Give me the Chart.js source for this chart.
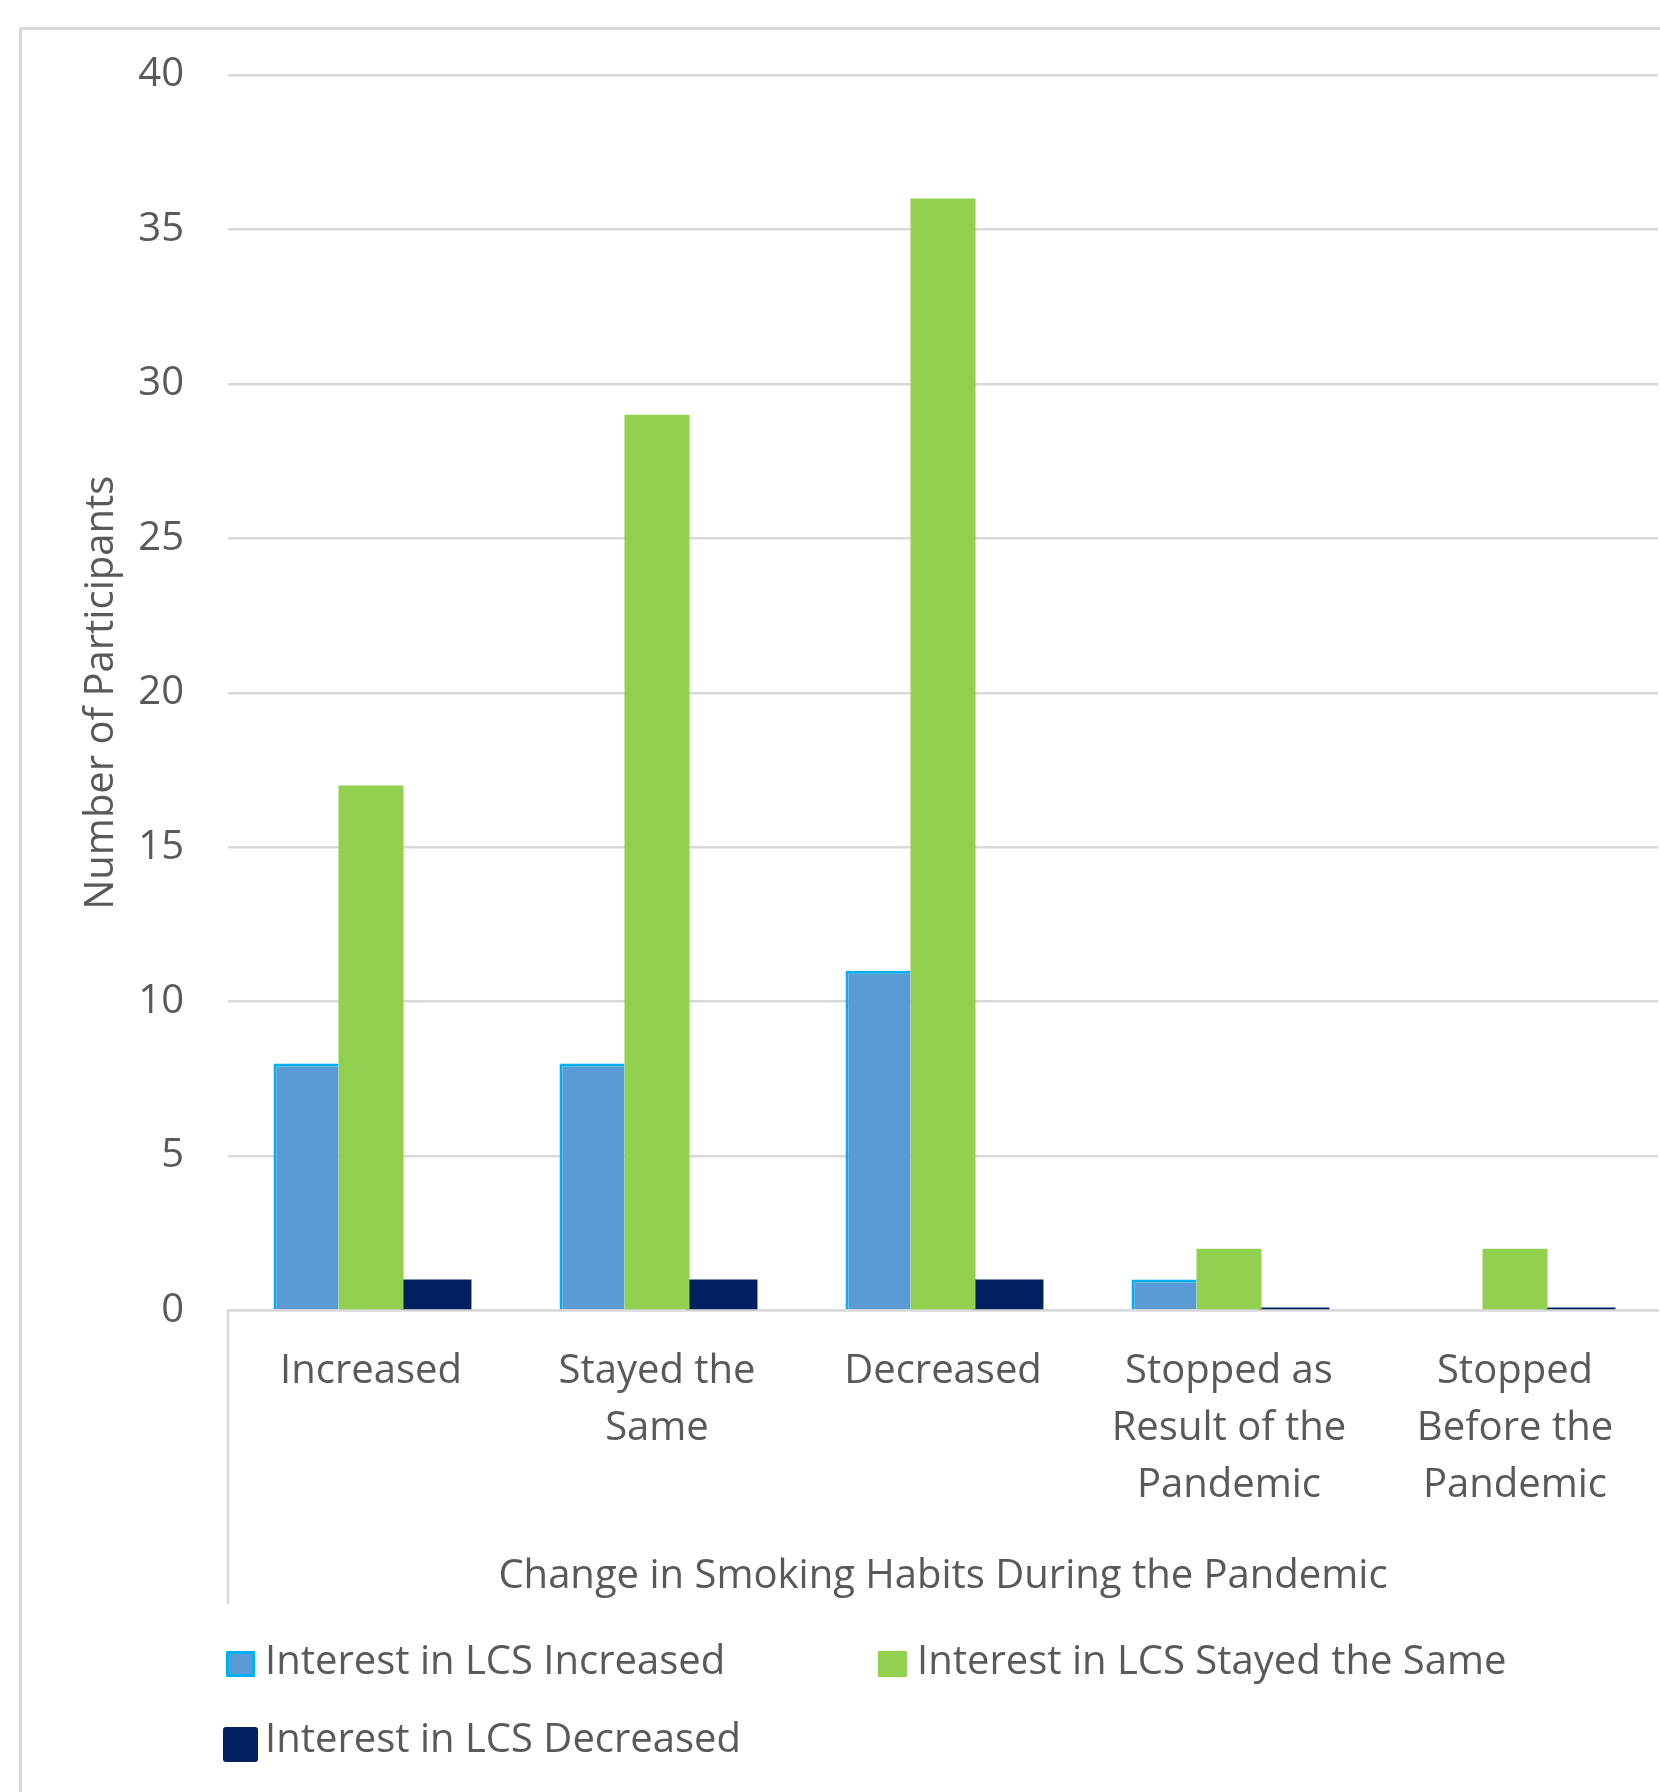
<!DOCTYPE html>
<html>
<head>
<meta charset="utf-8">
<script src="https://cdn.jsdelivr.net/npm/chart.js@4.4.0/dist/chart.umd.min.js"></script>
<style>
  html, body { margin: 0; padding: 0; background: #fff; overflow: hidden; }
  #wrap { position: relative; width: 1660px; height: 1792px; overflow: hidden; }
  #frame { position: absolute; left: 19px; top: 27px; width: 1700px; height: 1800px;
           border-left: 3px solid #d9d9d9; border-top: 3px solid #d9d9d9; }
  canvas { position: absolute; left: 0; top: 0; }
  .key { position: absolute; font: 40px 'Open Sans'; color: #595959; line-height: 40px; white-space: nowrap; }
  .swatch { position: absolute; box-sizing: border-box; }
</style>
</head>
<body>
<div id="wrap">
  <div id="frame"></div>
  <canvas id="smokingChart" width="1660" height="1792"></canvas>
  <div id="legend"></div>
</div>
<script>
// categories on the x axis (multi-line labels as arrays)
const categories = [
  'Increased',
  ['Stayed the', 'Same'],
  'Decreased',
  ['Stopped as', 'Result of the', 'Pandemic'],
  ['Stopped', 'Before the', 'Pandemic']
];
const seriesNames = [
  'Interest in LCS Increased',
  'Interest in LCS Stayed the Same',
  'Interest in LCS Decreased'
];
const lcsIncreased = [8, 8, 11, 1, 0];
const lcsSame = [17, 29, 36, 2, 2];
const lcsDecreased = [1, 1, 1, 0, 0];
const yMin = 0, yMax = 40, yStep = 5;

const textColor = '#595959';
const lineColor = '#d9d9d9';

Chart.defaults.font.family = "'Open Sans', 'Noto Sans', sans-serif";
Chart.defaults.font.size = 40;
Chart.defaults.color = textColor;

// thin vertical line under the category axis, left edge only
const axisDrop = {
  id: 'axisDrop',
  afterDraw(chart) {
    const x = chart.scales.x;
    const c = chart.ctx;
    c.save();
    c.strokeStyle = lineColor;
    c.lineWidth = 2.5;
    c.beginPath();
    c.moveTo(x.left, x.top);
    c.lineTo(x.left, 1604);
    c.stroke();
    c.restore();
  }
};

const chart = new Chart(document.getElementById('smokingChart'), {
  type: 'bar',
  data: {
    labels: categories,
    datasets: [
      {
        label: seriesNames[0],
        data: lcsIncreased,
        backgroundColor: '#5b9bd5',
        borderColor: '#00b0f0',
        borderWidth: { left: 3, top: 3, right: 0, bottom: 0 },
        borderSkipped: false
      },
      {
        label: seriesNames[1],
        data: lcsSame,
        backgroundColor: '#92d050',
        borderWidth: 0
      },
      {
        label: seriesNames[2],
        data: lcsDecreased,
        backgroundColor: '#002060',
        borderWidth: 0,
        barPercentage: 1.09,
        minBarLength: 3
      }
    ]
  },
  options: {
    responsive: false,
    animation: false,
    devicePixelRatio: 1,
    categoryPercentage: 0.682,
    barPercentage: 1,
    layout: { padding: { left: 20, top: 75, right: 2, bottom: 191.5 } },
    plugins: {
      legend: { display: false },
      tooltip: { enabled: false }
    },
    scales: {
      x: {
        grid: { display: false, drawTicks: false },
        border: { display: true, color: lineColor, width: 2.5 },
        ticks: { padding: 33, font: { size: 40, lineHeight: 1.425 }, maxRotation: 0, autoSkip: false },
        title: {
          display: true,
          text: 'Change in Smoking Habits During the Pandemic',
          font: { size: 40, lineHeight: 1.2 },
          padding: { top: 0, bottom: 0 }
        },
        afterFit(scale) { scale.height = 290; }
      },
      y: {
        min: yMin,
        max: yMax,
        ticks: { stepSize: yStep, padding: 44, font: { size: 40 } },
        grid: { color: lineColor, lineWidth: 2.5, drawTicks: false },
        border: { display: false },
        title: {
          display: true,
          text: 'Number of Participants',
          font: { size: 40, lineHeight: 1.2 },
          padding: { top: 58, bottom: 0 }
        },
        afterFit(scale) { scale.width = 208; }
      }
    }
  },
  plugins: [axisDrop]
});

// legend built from the chart's datasets
const keySpots = [
  { box: [226, 1651, 29, 26], text: [265, 1639] },
  { box: [878, 1651, 29, 26], text: [917, 1639] },
  { box: [223, 1727, 35, 35], text: [265, 1717] }
];
const legend = document.getElementById('legend');
chart.data.datasets.forEach((ds, i) => {
  const spot = keySpots[i];
  const sw = document.createElement('div');
  sw.className = 'swatch';
  sw.style.left = spot.box[0] + 'px';
  sw.style.top = spot.box[1] + 'px';
  sw.style.width = spot.box[2] + 'px';
  sw.style.height = spot.box[3] + 'px';
  sw.style.background = ds.backgroundColor;
  if (ds.borderColor) sw.style.border = '3px solid ' + ds.borderColor;
  if (i === 2) sw.style.borderRadius = '3px';
  legend.appendChild(sw);
  const t = document.createElement('div');
  t.className = 'key';
  t.style.left = spot.text[0] + 'px';
  t.style.top = spot.text[1] + 'px';
  t.textContent = ds.label;
  legend.appendChild(t);
});
</script>
</body>
</html>
